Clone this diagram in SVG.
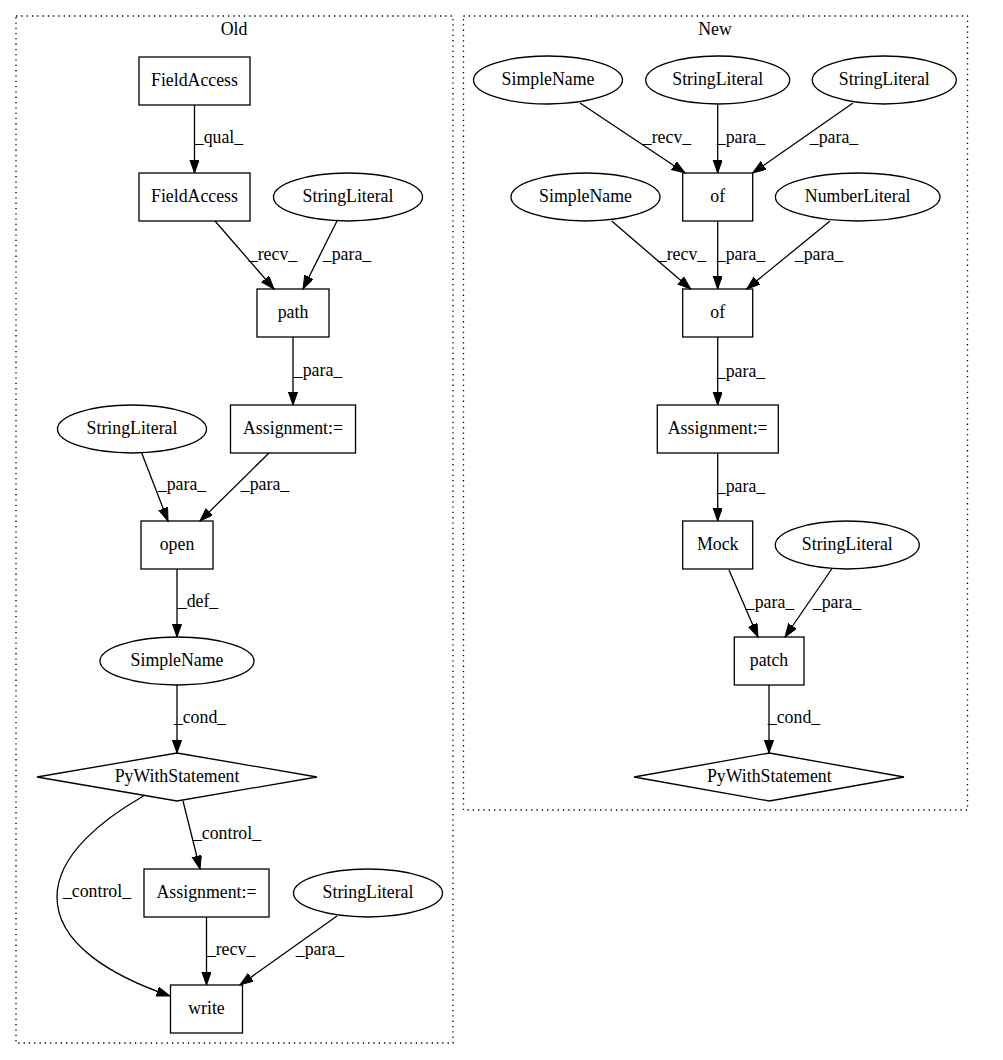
<svg xmlns="http://www.w3.org/2000/svg" width="1003" height="1060" viewBox="0 0 1003 1060">
<style>
text{font-family:"Liberation Serif","Times New Roman",serif;font-size:17.8px;fill:#000;text-anchor:middle}
.n{fill:none;stroke:#000;stroke-width:1.3}
.cl{fill:none;stroke:#000;stroke-width:1.3;stroke-dasharray:1.3,4}
.e{fill:none;stroke:#000;stroke-width:1.3;marker-end:url(#ah)}
</style>
<defs>
<marker id="ah" markerUnits="userSpaceOnUse" markerWidth="15" markerHeight="11" refX="13.3" refY="4.7" orient="auto">
<path d="M0,0 L13.3,4.7 L0,9.4 z" fill="#000" stroke="#000" stroke-width="1"/>
</marker>
</defs>
<rect width="1003" height="1060" fill="#fff"/>
<g id="cluster_old">
<rect class="cl" x="16" y="16" width="437" height="1027"/>
<text x="234" y="35">Old</text>
</g>
<g id="cluster_new">
<rect class="cl" x="463.5" y="16" width="504" height="794"/>
<text x="715" y="35">New</text>
</g>
<g id="edges">
<line class="e" x1="194.5" y1="105" x2="194.5" y2="173"/>
<text x="219" y="143">_qual_</text>
<line class="e" x1="215" y1="221" x2="274" y2="289"/>
<text x="273" y="260">_recv_</text>
<line class="e" x1="337" y1="221" x2="303" y2="289"/>
<text x="347" y="260">_para_</text>
<line class="e" x1="293" y1="337" x2="293" y2="405"/>
<text x="318" y="376">_para_</text>
<line class="e" x1="141.7" y1="453" x2="168" y2="521"/>
<text x="182" y="490">_para_</text>
<line class="e" x1="269" y1="453" x2="200" y2="521"/>
<text x="265" y="490">_para_</text>
<line class="e" x1="177" y1="569" x2="177" y2="637"/>
<text x="198" y="607">_def_</text>
<line class="e" x1="177" y1="685" x2="177" y2="753"/>
<text x="200" y="723">_cond_</text>
<line class="e" x1="183" y1="801" x2="200" y2="869"/>
<text x="227" y="839">_control_</text>
<path class="e" d="M143.5,796 C105,818 57,854 57,897 C57,944 112,976 170,996"/>
<text x="97" y="897">_control_</text>
<line class="e" x1="206.5" y1="917" x2="206.5" y2="985"/>
<text x="231" y="955">_recv_</text>
<line class="e" x1="337" y1="916" x2="240" y2="985"/>
<text x="320" y="955">_para_</text>
<line class="e" x1="580" y1="103" x2="685" y2="173"/>
<text x="667" y="143">_recv_</text>
<line class="e" x1="717.7" y1="104" x2="717.7" y2="173"/>
<text x="741" y="143">_para_</text>
<line class="e" x1="853" y1="103" x2="752.7" y2="173"/>
<text x="834" y="143">_para_</text>
<line class="e" x1="611.7" y1="221" x2="690.7" y2="289"/>
<text x="682" y="260">_recv_</text>
<line class="e" x1="717.7" y1="221" x2="717.7" y2="289"/>
<text x="741" y="260">_para_</text>
<line class="e" x1="830" y1="221" x2="746.7" y2="289"/>
<text x="819" y="260">_para_</text>
<line class="e" x1="717.7" y1="337" x2="717.7" y2="405"/>
<text x="741" y="377">_para_</text>
<line class="e" x1="717.7" y1="453" x2="717.7" y2="521"/>
<text x="741" y="492">_para_</text>
<line class="e" x1="729" y1="570" x2="758" y2="637"/>
<text x="770" y="608">_para_</text>
<line class="e" x1="831.7" y1="569" x2="785" y2="637"/>
<text x="837" y="608">_para_</text>
<line class="e" x1="769" y1="685" x2="769" y2="753"/>
<text x="794" y="723">_cond_</text>
</g>
<g id="old_fieldaccess1"><rect class="n" x="139" y="57" width="111" height="48"/><text x="194.5" y="86">FieldAccess</text></g>
<g id="old_fieldaccess2"><rect class="n" x="139" y="173" width="111" height="48"/><text x="194.5" y="202">FieldAccess</text></g>
<g id="old_stringliteral1"><ellipse class="n" cx="348" cy="197" rx="74.5" ry="24"/><text x="348" y="202">StringLiteral</text></g>
<g id="old_path"><rect class="n" x="257" y="289" width="72" height="48"/><text x="293" y="318">path</text></g>
<g id="old_assignment1"><rect class="n" x="230.5" y="405" width="125" height="48"/><text x="293" y="434">Assignment:=</text></g>
<g id="old_stringliteral2"><ellipse class="n" cx="132" cy="429" rx="74.5" ry="24"/><text x="132" y="434">StringLiteral</text></g>
<g id="old_open"><rect class="n" x="141" y="521" width="72" height="48"/><text x="177" y="550">open</text></g>
<g id="old_simplename"><ellipse class="n" cx="177" cy="661" rx="77" ry="24"/><text x="177" y="666">SimpleName</text></g>
<g id="old_pywith"><polygon class="n" points="177,753 317,777 177,801 37,777"/><text x="177" y="782">PyWithStatement</text></g>
<g id="old_assignment2"><rect class="n" x="144" y="869" width="125" height="48"/><text x="206.5" y="898">Assignment:=</text></g>
<g id="old_stringliteral3"><ellipse class="n" cx="368" cy="893" rx="74.5" ry="24"/><text x="368" y="898">StringLiteral</text></g>
<g id="old_write"><rect class="n" x="170.5" y="985" width="72" height="48"/><text x="206.5" y="1014">write</text></g>
<g id="new_simplename1"><ellipse class="n" cx="548" cy="80" rx="74.5" ry="24"/><text x="548" y="85">SimpleName</text></g>
<g id="new_stringliteral1"><ellipse class="n" cx="717.7" cy="80" rx="72" ry="24"/><text x="717.7" y="85">StringLiteral</text></g>
<g id="new_stringliteral2"><ellipse class="n" cx="884.3" cy="80" rx="72" ry="24"/><text x="884.3" y="85">StringLiteral</text></g>
<g id="new_of1"><rect class="n" x="682.7" y="173" width="70" height="48"/><text x="717.7" y="202">of</text></g>
<g id="new_simplename2"><ellipse class="n" cx="585.5" cy="197" rx="74.5" ry="24"/><text x="585.5" y="202">SimpleName</text></g>
<g id="new_numberliteral"><ellipse class="n" cx="857.7" cy="197" rx="82.3" ry="24"/><text x="857.7" y="202">NumberLiteral</text></g>
<g id="new_of2"><rect class="n" x="682.7" y="289" width="70" height="48"/><text x="717.7" y="318">of</text></g>
<g id="new_assignment"><rect class="n" x="657.3" y="405" width="121" height="48"/><text x="717.7" y="434">Assignment:=</text></g>
<g id="new_mock"><rect class="n" x="682.7" y="521" width="70" height="48"/><text x="717.7" y="550">Mock</text></g>
<g id="new_stringliteral3"><ellipse class="n" cx="847.3" cy="545" rx="72" ry="24"/><text x="847.3" y="550">StringLiteral</text></g>
<g id="new_patch"><rect class="n" x="734.3" y="637" width="69.7" height="48"/><text x="769" y="666">patch</text></g>
<g id="new_pywith"><polygon class="n" points="769.3,753 904,777 769.3,801 634,777"/><text x="769.3" y="782">PyWithStatement</text></g>
</svg>
